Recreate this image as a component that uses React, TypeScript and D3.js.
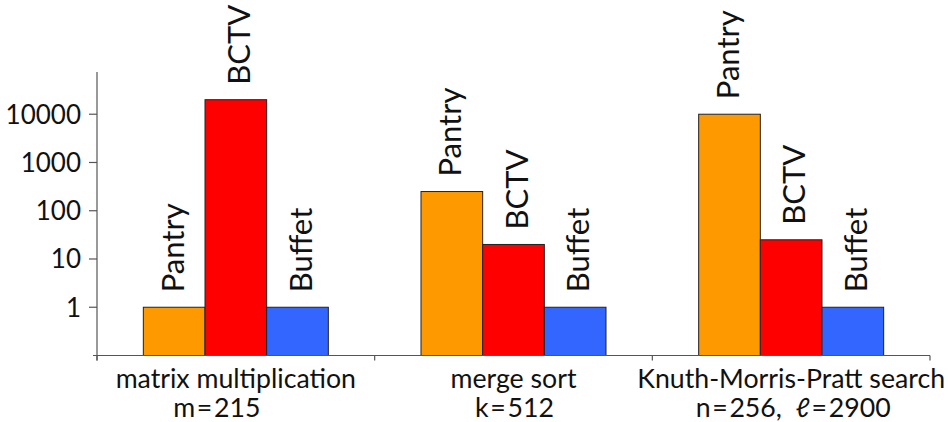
import React from "react";
import * as d3 from "d3";

const categories = ["matrix multiplication", "merge sort", "Knuth-Morris-Pratt search"];
const subtitles = ["m\u200a=\u200a215", "k\u200a=\u200a512", "n\u200a=\u200a256,  ℓ\u200a=\u200a2900"];
const series = ["Pantry", "BCTV", "Buffet"];
const pantryValues = [1, 250, 10000];
const bctvValues = [20000, 20, 25];
const buffetValues = [1, 1, 1];
const yTicks = [1, 10, 100, 1000, 10000];

const W = 948;
const H = 422;
const colors = ["#ff9900", "#ff0000", "#3366ff"];
const subtitleShift = [-19, 1, 2];

export default function App() {
  const values = [pantryValues, bctvValues, buffetValues];
  const x0 = d3.scaleBand<string>().domain(categories).range([97, 930]).padding(0);
  const y = d3.scaleLog().domain([0.1, 75000]).range([355.5, 72]);
  const groupW = 185;
  const x1 = d3.scaleBand<string>().domain(series).range([0, groupW]).padding(0);
  const font = "Lato, 'DejaVu Sans', sans-serif";
  const axisColor = "#555";
  const baseY = y(0.1);

  return (
    <svg width={W} height={H} style={{ position: "absolute", left: 0, top: 0, background: "#fff" }}>
      <rect x={0} y={0} width={W} height={H} fill="#fff" />
      {categories.map((c, ci) => {
        const cx = (x0(c) as number) + x0.bandwidth() / 2;
        const gx = cx - groupW / 2;
        return (
          <g key={c}>
            {series.map((s, si) => {
              const v = values[si][ci];
              const bx = gx + (x1(s) as number);
              const top = y(v);
              const bcx = bx + x1.bandwidth() / 2;
              const hasDesc = /[gjpqy]/.test(s);
              const lx = bcx + (hasDesc ? 9.5 : 14);
              const ly = top - 15;
              return (
                <g key={s}>
                  <rect x={bx} y={top} width={x1.bandwidth()} height={baseY - top}
                    fill={colors[si]} stroke="#222" strokeWidth={1} />
                  <text transform={`translate(${lx},${ly}) rotate(-90)`} fontFamily={font}
                    fontSize={31} fill="#111" textAnchor="start">{s}</text>
                </g>
              );
            })}
          </g>
        );
      })}
      <line x1={97} x2={97} y1={72} y2={baseY + 5} stroke={axisColor} strokeWidth={1.2} />
      {yTicks.map((t) => (
        <g key={t}>
          <line x1={89} x2={97} y1={y(t)} y2={y(t)} stroke={axisColor} strokeWidth={1.2} />
          <text x={81} y={y(t)} dy="0.36em" textAnchor="end" fontFamily={font} fontSize={26} fill="#111">
            {d3.format("d")(t)}
          </text>
        </g>
      ))}
      <line x1={93} x2={930} y1={baseY} y2={baseY} stroke={axisColor} strokeWidth={1.2} />
      {[...categories.map((c) => x0(c) as number), 930].map((t, i) => (
        <line key={i} x1={t} x2={t} y1={baseY} y2={baseY + 5} stroke={axisColor} strokeWidth={1.2} />
      ))}
      {categories.map((c, ci) => {
        const cx = (x0(c) as number) + x0.bandwidth() / 2;
        return (
          <g key={c}>
            <text x={cx} y={388} textAnchor="middle" fontFamily={font} fontSize={26.7} fill="#111">{c}</text>
            <text x={cx + subtitleShift[ci]} y={417} textAnchor="middle" fontFamily={font} fontSize={26.7}
              fill="#111" style={{ whiteSpace: "pre" }}>{subtitles[ci]}</text>
          </g>
        );
      })}
    </svg>
  );
}
